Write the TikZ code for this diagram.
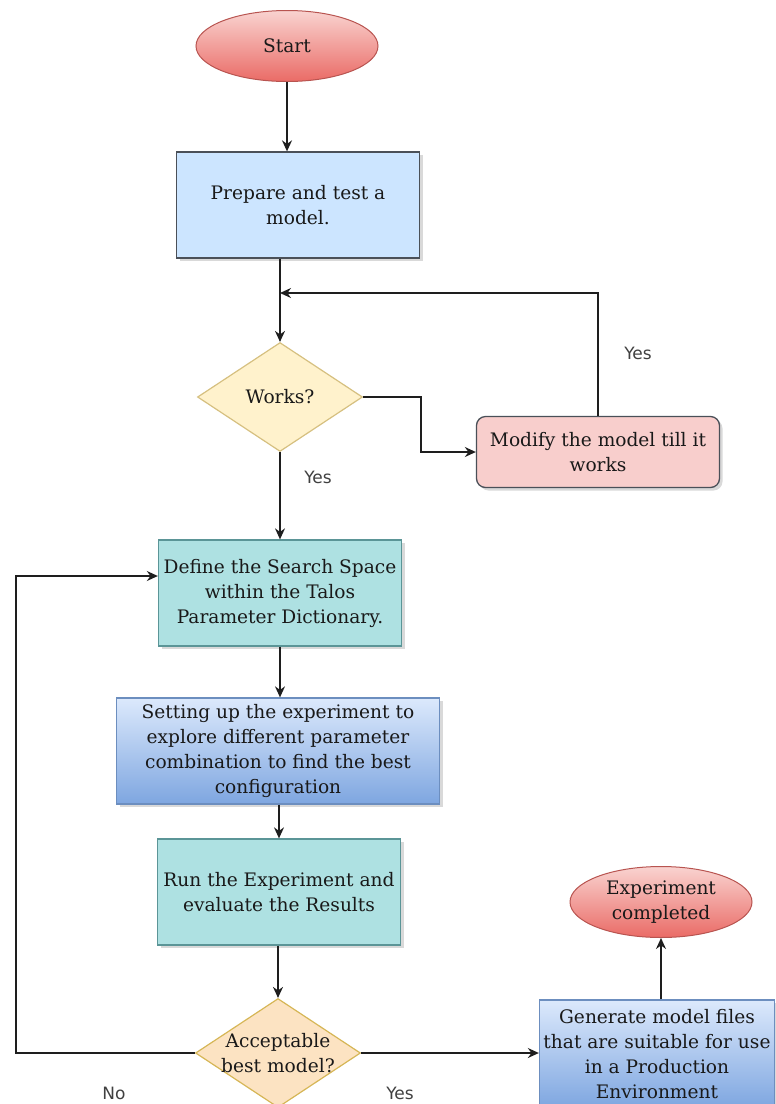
\documentclass[tikz,border=0pt]{standalone}
\usepackage{fontspec}
\setmainfont{DejaVu Serif}
\newfontfamily\lblfont{DejaVu Sans}
\usetikzlibrary{arrows.meta,shapes.geometric,shadows}
\definecolor{edge}{HTML}{1E1E1E}
\definecolor{rosetop}{HTML}{F9D3D0}
\definecolor{rosebot}{HTML}{EA6B66}
\definecolor{roseline}{HTML}{B85450}
\definecolor{paleblue}{HTML}{CCE5FF}
\definecolor{slate}{HTML}{4A5058}
\definecolor{cream}{HTML}{FFF2CC}
\definecolor{sand}{HTML}{D6C080}
\definecolor{blush}{HTML}{F8CECC}
\definecolor{aqua}{HTML}{AEE1E2}
\definecolor{aquaedge}{HTML}{5B9597}
\definecolor{skytop}{HTML}{DCE9FC}
\definecolor{skybot}{HTML}{7EA6E0}
\definecolor{skyedge}{HTML}{6C8EBF}
\definecolor{peach}{HTML}{FCE3C2}
\definecolor{peachedge}{HTML}{D6B656}

\begin{document}
\begin{tikzpicture}[x=1pt,y=-1pt,
  txt/.style={font=\fontsize{18.6}{25}\selectfont,align=center,text=black!90},
  bx/.style={txt,draw=#1,line width=1.3pt,minimum width=243,minimum height=106,inner sep=1pt,drop shadow={opacity=0.3,shadow xshift=3pt,shadow yshift=-3pt}},
  ov/.style={txt,ellipse,draw=roseline,line width=1pt,top color=rosetop,bottom color=rosebot,minimum width=182,minimum height=71,inner sep=0pt},
  dm/.style={txt,diamond,draw=#1,line width=1.2pt,minimum width=165,minimum height=109,inner sep=-20pt},
  lbl/.style={font=\lblfont\fontsize{17}{20}\selectfont,text=black!75},
  lk/.style={-{Stealth[length=11pt,width=10pt]},line width=1.4pt,draw=edge}]
  \clip (0,0) rectangle (776,1104);
  \node[ov] (start) at (287,46) {Start};
  \node[bx=slate,fill=paleblue] (prep) at (298,205) {Prepare and test a\\model.};
  \node[dm=sand,fill=cream] (works) at (280,397) {Works?};
  \node[bx=slate,fill=blush,rounded corners=9pt,minimum height=71] (mod) at (598,452) {Modify the model till it\\works};
  \node[bx=aquaedge,fill=aqua] (space) at (280,593) {Define the Search Space\\within the Talos\\Parameter Dictionary.};
  \node[bx=skyedge,top color=skytop,bottom color=skybot,minimum width=323] (setup) at (278,751) {Setting up the experiment to\\explore different parameter\\combination to find the best\\configuration};
  \node[bx=aquaedge,fill=aqua] (run) at (279,892) {Run the Experiment and\\evaluate the Results};
  \node[dm=peachedge,fill=peach] (accept) at (278,1053) {Acceptable\\best model?};
  \node[bx=skyedge,top color=skytop,bottom color=skybot,minimum width=235,minimum height=108] (gen) at (657,1054) {Generate model files\\that are suitable for use\\in a Production\\Environment};
  \node[ov] (done) at (661,902) {Experiment\\completed};
  % loop-back points
  \coordinate (back1) at (280,293);
  \coordinate (back2) at (16,576);
  \draw[lk] (start.south) -- (start.south |- prep.north);
  \draw[lk] (prep.south -| works.north) -- (works.north);
  \draw[lk] (mod.north) |- (back1);
  \draw[lk] (works.east) -- ++(58,0) |- (mod.west);
  \draw[lk] (works.south) -- (works.south |- space.north);
  \draw[lk] (space.south) -- (space.south |- setup.north);
  \draw[lk] (setup.south -| run.north) -- (run.north);
  \draw[lk] (run.south -| accept.north) -- (accept.north);
  \draw[lk] (accept.west) -| (back2) -- (back2 -| space.west);
  \draw[lk] (accept.east) -- (gen.west |- accept.east);
  \draw[lk] (done.south |- gen.north) -- (done.south);
  \node[lbl] (yes1) at (638,353) {Yes};
  \node[lbl] (yes2) at (318,477) {Yes};
  \node[lbl] (no) at (114,1093) {No};
  \node[lbl] (yes3) at (400,1093) {Yes};
\end{tikzpicture}
\end{document}
